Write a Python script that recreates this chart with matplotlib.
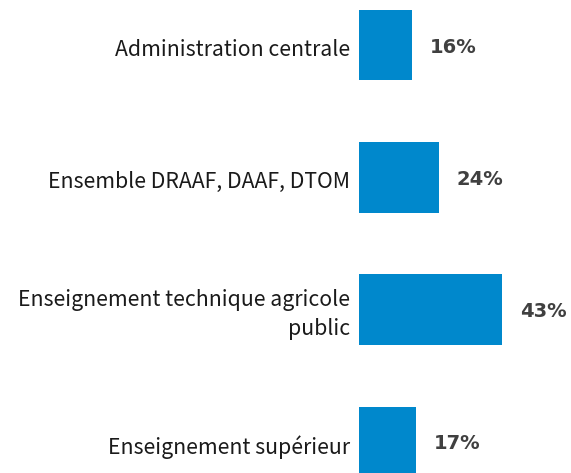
import matplotlib
matplotlib.use("Agg")
import matplotlib.pyplot as plt

categories = ["Administration centrale", "Ensemble DRAAF, DAAF, DTOM",
              "Enseignement technique agricole\npublic", "Enseignement supérieur"]
values = [16, 24, 43, 17]
value_labels = ["16%", "24%", "43%", "17%"]

W, H = 571, 473
fig = plt.figure(figsize=(W / 100, H / 100), dpi=100)
left_px = 359
ax = fig.add_axes([left_px / W, 0, (W - left_px) / W, 1])
px_per_unit = 3.33
ax.set_xlim(0, (W - left_px) / px_per_unit)
spacing = 132.3
ax.set_ylim(3 + (H - 442) / spacing, -45 / spacing)

y = list(range(len(categories)))
ax.barh(y, values, height=0.535, color="#0088cc")
ax.axis("off")

for yi, v, lab, cat in zip(y, values, value_labels, categories):
    ax.annotate(lab, (v, yi), xytext=(18, -2), textcoords="offset pixels",
                ha="left", va="center", fontsize=14, fontweight="bold",
                color="#404040", family="DejaVu Sans")
    ax.annotate(cat, (0, yi), xytext=(-9, -5), textcoords="offset pixels",
                ha="right", va="center", fontsize=15.3, color="#1a1a1a",
                family=["Noto Sans CJK SC", "DejaVu Sans"], linespacing=1.42)

fig.savefig("out.png", dpi=100)
